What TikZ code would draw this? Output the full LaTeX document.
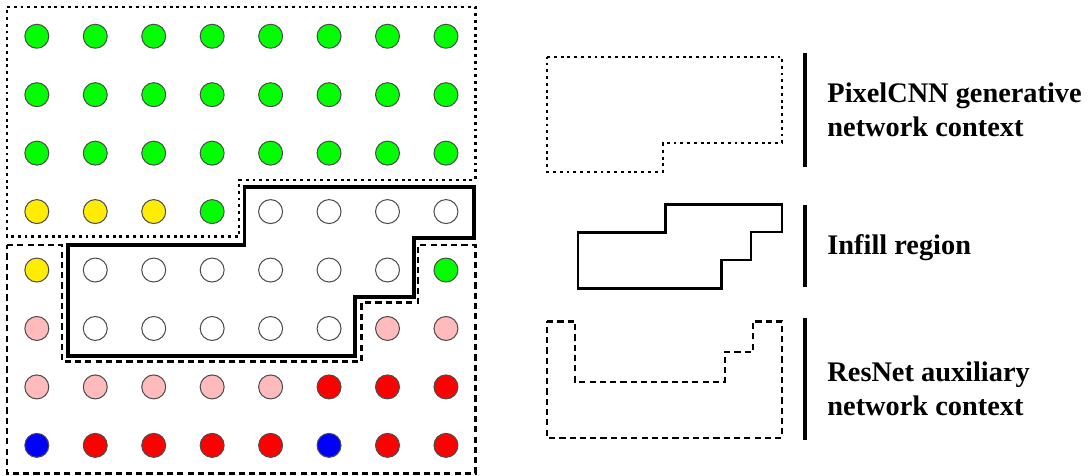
\documentclass[tikz,border=0pt]{standalone}
\usepackage{fontspec}
\setmainfont{Liberation Serif}
\usepackage{xcolor}
\definecolor{pxg}{RGB}{0,255,0}
\definecolor{pxy}{RGB}{255,236,0}
\definecolor{pxp}{RGB}{255,187,187}
\definecolor{pxr}{RGB}{255,0,0}
\definecolor{pxb}{RGB}{0,0,255}
\definecolor{pxw}{RGB}{255,255,255}
\usepackage{tikz}
\usetikzlibrary{positioning}

\begin{document}
\begin{tikzpicture}[
  pix/.style={circle, draw=black!70, line width=0.5pt, minimum size=0.41cm, inner sep=0pt},
  gencontext/.style={line width=1.4pt, dash pattern=on 1.4pt off 1.9pt},
  infill/.style={line width=1.7pt},
  auxcontext/.style={line width=1.3pt, dash pattern=on 3pt off 2pt},
  legbar/.style={line width=1.7pt},
  legtext/.style={font=\fontsize{13.8}{16.5}\selectfont\bfseries, align=left, anchor=west, inner sep=0pt}
]
\useasboundingbox (-0.63,0.62) rectangle (17.985,-7.516);

% === Pixel grid (8 x 8) ===
\foreach \row [count=\j from 0] in {
    {g,g,g,g,g,g,g,g},
    {g,g,g,g,g,g,g,g},
    {g,g,g,g,g,g,g,g},
    {y,y,y,g,w,w,w,w},
    {y,w,w,w,w,w,w,g},
    {p,w,w,w,w,w,p,p},
    {p,p,p,p,p,r,r,r},
    {b,r,r,r,r,b,r,r}}
  \foreach \c [count=\i from 0] in \row
    \node[pix, fill=px\c] (px-\i-\j) at (\i,-\j) {};

% === Region outlines on the grid ===
% PixelCNN context (dotted)
\draw[gencontext] (-0.51,0.5) -- (7.5,0.5) -- (7.5,-2.46) -- (3.46,-2.46)
  -- (3.46,-3.43) -- (-0.51,-3.43) -- cycle;
% infill region (solid)
\draw[infill] (3.55,-2.58) -- (7.48,-2.58) -- (7.48,-3.45) -- (6.45,-3.45)
  -- (6.45,-4.46) -- (5.44,-4.46) -- (5.44,-5.47) -- (0.53,-5.47)
  -- (0.53,-3.57) -- (3.55,-3.57) -- cycle;
% ResNet context (dashed)
\draw[auxcontext] (-0.51,-3.57) -- (0.43,-3.57) -- (0.43,-5.57) -- (5.56,-5.57)
  -- (5.56,-4.56) -- (6.52,-4.56) -- (6.52,-3.57) -- (7.5,-3.57)
  -- (7.5,-7.48) -- (-0.51,-7.48) -- cycle;

% === Legend ===
\draw[gencontext, line width=1.1pt] (8.73,-0.35) -- (12.75,-0.35) -- (12.75,-1.83)
  -- (10.71,-1.83) -- (10.71,-2.32) -- (8.73,-2.32) -- cycle;
\draw[legbar] (13.14,-0.29) -- (13.14,-2.24);
\node[legtext] (genlabel) at (13.52,-1.26) {PixelCNN generative\\network context};

\draw[infill, line width=1.3pt] (9.26,-3.36) -- (10.76,-3.36) -- (10.76,-2.88) -- (12.75,-2.88)
  -- (12.75,-3.35) -- (12.22,-3.35) -- (12.22,-3.83) -- (11.72,-3.83)
  -- (11.72,-4.32) -- (9.26,-4.32) -- cycle;
\draw[legbar] (13.14,-2.88) -- (13.14,-4.29);
\node[legtext] (infilllabel) at (13.52,-3.62) {Infill region};

\draw[auxcontext, line width=1.1pt] (8.73,-4.88) -- (9.21,-4.88) -- (9.21,-5.91) -- (11.77,-5.91)
  -- (11.77,-5.40) -- (12.25,-5.40) -- (12.25,-4.88) -- (12.75,-4.88)
  -- (12.75,-6.87) -- (8.73,-6.87) -- cycle;
\draw[legbar] (13.14,-4.82) -- (13.14,-6.90);
\node[legtext] (auxlabel) at (13.52,-6.03) {ResNet auxiliary\\network context};

\end{tikzpicture}
\end{document}
